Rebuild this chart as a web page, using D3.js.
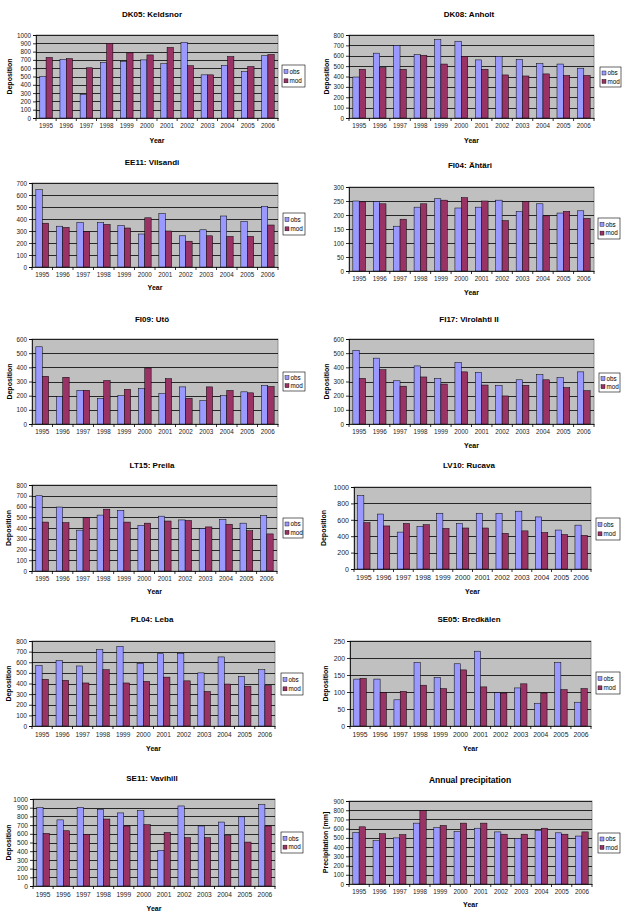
<!DOCTYPE html>
<html>
<head>
<meta charset="utf-8">
<script src="https://cdn.jsdelivr.net/npm/d3@7"></script>
<style>
  body { margin: 0; background: #fff; }
  svg { display: block; font-family: "Liberation Sans", Arial, sans-serif; }
</style>
</head>
<body>
<svg id="chart" width="627" height="923"></svg>
<script>
// data
const years = ["1995","1996","1997","1998","1999","2000","2001","2002","2003","2004","2005","2006"];
const seriesNames = ["obs", "mod"];

const dk05Obs = [500, 705, 285, 670, 680, 700, 655, 910, 520, 635, 560, 750];
const dk05Mod = [730, 715, 605, 900, 785, 760, 850, 630, 520, 740, 620, 765];
const dk08Obs = [395, 625, 700, 610, 755, 740, 560, 595, 565, 525, 520, 480];
const dk08Mod = [470, 485, 470, 605, 520, 595, 470, 415, 405, 425, 410, 410];
const ee11Obs = [645, 340, 370, 370, 345, 275, 445, 260, 310, 425, 380, 505];
const ee11Mod = [365, 330, 295, 355, 325, 410, 300, 215, 260, 255, 255, 350];
const fi04Obs = [250, 248, 160, 228, 258, 225, 228, 253, 213, 240, 207, 215];
const fi04Mod = [247, 240, 185, 240, 253, 262, 250, 180, 248, 197, 213, 188];
const fi09Obs = [545, 195, 238, 180, 200, 250, 215, 262, 165, 200, 227, 272];
const fi09Mod = [337, 330, 238, 307, 245, 395, 320, 182, 262, 237, 220, 265];
const fi17Obs = [520, 465, 305, 410, 322, 435, 365, 272, 312, 348, 328, 368];
const fi17Mod = [322, 383, 267, 332, 282, 368, 275, 198, 273, 312, 257, 235];
const lt15Obs = [700, 595, 380, 520, 565, 425, 510, 475, 395, 480, 445, 515];
const lt15Mod = [455, 450, 495, 575, 455, 445, 465, 470, 410, 435, 375, 345];
const lv10Obs = [895, 670, 450, 520, 680, 555, 680, 675, 705, 635, 475, 535];
const lv10Mod = [565, 525, 555, 540, 495, 500, 500, 435, 465, 445, 420, 410];
const pl04Obs = [570, 615, 565, 720, 750, 590, 680, 685, 500, 650, 465, 530];
const pl04Mod = [440, 430, 405, 530, 405, 420, 460, 425, 325, 395, 375, 380];
const se05Obs = [138, 138, 77, 187, 143, 183, 220, 98, 112, 67, 187, 70];
const se05Mod = [140, 98, 102, 120, 110, 165, 115, 97, 124, 97, 107, 110];
const se11Obs = [900, 760, 905, 880, 840, 865, 410, 920, 690, 735, 795, 935];
const se11Mod = [605, 635, 595, 770, 690, 705, 615, 555, 555, 580, 505, 690];
const precObs = [560, 470, 500, 660, 610, 570, 605, 565, 495, 580, 555, 520];
const precMod = [620, 545, 535, 795, 635, 660, 660, 540, 540, 605, 540, 565];

const titles = ["DK05: Keldsnor", "DK08: Anholt", "EE11: Vilsandi", "FI04: \u00c4ht\u00e4ri",
  "FI09: Ut\u00f6", "FI17: Virolahti II", "LT15: Preila", "LV10: Rucava",
  "PL04: Leba", "SE05: Bredk\u00e4len", "SE11: Vavihill", "Annual precipitation"];
const yMax = [1000, 800, 700, 300, 600, 600, 800, 1000, 800, 250, 1000, 900];
const yStep = [100, 100, 100, 50, 100, 100, 100, 200, 100, 50, 100, 100];
const yTitles = ["Deposition", "Deposition", "", "", "Deposition", "Deposition", "Deposition",
  "Deposition", "Deposition", "Deposition", "Deposition", "Precipitation [mm]"];
const xTitles = ["Year", "Year", "Year", "Year", "", "Year", "Year", "Year", "Year", "Year", "Year", "Year"];
const obsSets = [dk05Obs, dk08Obs, ee11Obs, fi04Obs, fi09Obs, fi17Obs, lt15Obs, lv10Obs, pl04Obs, se05Obs, se11Obs, precObs];
const modSets = [dk05Mod, dk08Mod, ee11Mod, fi04Mod, fi09Mod, fi17Mod, lt15Mod, lv10Mod, pl04Mod, se05Mod, se11Mod, precMod];

// layout of each panel on the page: plot box, legend box, title and axis title spots
const layout = [
  {l: 36, t: 35, r: 278, b: 118, lx: 282, ly: 65, lw: 23, lh: 22, tx: 152, ty: 14, yx: 9, xy: 140, fs: 6.3},
  {l: 349, t: 35, r: 594, b: 118, lx: 600, ly: 67, lw: 21, lh: 20, tx: 469, ty: 14, yx: 326, xy: 140, fs: 6.3},
  {l: 32, t: 183, r: 278, b: 267, lx: 283, ly: 213, lw: 22, lh: 22, tx: 152, ty: 162, yx: 9, xy: 287, fs: 6.3},
  {l: 349, t: 187, r: 594, b: 271, lx: 598, ly: 218, lw: 22, lh: 21, tx: 470, ty: 165, yx: 326, xy: 292, fs: 6.3},
  {l: 32, t: 339, r: 278, b: 424, lx: 283, ly: 372, lw: 22, lh: 19, tx: 152, ty: 319, yx: 9, xy: 445, fs: 6.3},
  {l: 349, t: 339, r: 594, b: 424, lx: 599, ly: 373, lw: 21, lh: 19, tx: 469, ty: 319, yx: 326, xy: 445, fs: 6.3},
  {l: 32, t: 485, r: 277, b: 571, lx: 283, ly: 518, lw: 20, lh: 20, tx: 152, ty: 465, yx: 8, xy: 591, fs: 6.3},
  {l: 354, t: 487, r: 591, b: 569, lx: 596, ly: 518, lw: 24, lh: 22, tx: 469, ty: 465, yx: 323, xy: 591, fs: 7},
  {l: 32, t: 641, r: 275, b: 726, lx: 281, ly: 673, lw: 22, lh: 22, tx: 152, ty: 619, yx: 8, xy: 748, fs: 6.5},
  {l: 350, t: 641, r: 591, b: 726, lx: 596, ly: 672, lw: 24, lh: 22, tx: 469, ty: 619, yx: 325, xy: 748, fs: 6.8},
  {l: 33, t: 799, r: 275, b: 886, lx: 281, ly: 832, lw: 22, lh: 21, tx: 152, ty: 778, yx: 8, xy: 908, fs: 6.6},
  {l: 349, t: 801, r: 592, b: 884, lx: 598, ly: 833, lw: 22, lh: 20, tx: 470, ty: 780, yx: 325, xy: 904, fs: 6.3}
];

const colors = {obs: "#9999ff", mod: "#993366"};
const fontFamily = "'Liberation Sans', Arial, sans-serif";
const svg = d3.select("#chart");

titles.forEach((title, i) => {
  const p = layout[i];
  const g = svg.append("g");
  const rows = years.map((y, j) => ({year: y, obs: obsSets[i][j], mod: modSets[i][j]}));

  const x = d3.scaleBand().domain(years).range([p.l, p.r]);
  const x1 = d3.scaleBand().domain(seriesNames).range([0, x.bandwidth()]).paddingOuter(0.6).paddingInner(0);
  const y = d3.scaleLinear().domain([0, yMax[i]]).range([p.b, p.t]);
  const ticks = d3.range(0, yMax[i] + 1, yStep[i]);

  // plot background
  g.append("rect")
    .attr("x", p.l).attr("y", p.t)
    .attr("width", p.r - p.l).attr("height", p.b - p.t)
    .attr("fill", "#c0c0c0").attr("stroke", "#808080").attr("stroke-width", 0.8);

  // gridlines
  g.append("g").selectAll("line")
    .data(ticks.filter(d => d > 0))
    .join("line")
    .attr("x1", p.l).attr("x2", p.r)
    .attr("y1", d => Math.round(y(d)) + 0.5).attr("y2", d => Math.round(y(d)) + 0.5)
    .attr("stroke", "#000").attr("stroke-width", 0.8);

  // bars
  g.append("g").selectAll("g")
    .data(rows)
    .join("g")
    .attr("transform", d => `translate(${x(d.year)},0)`)
    .selectAll("rect")
    .data(d => seriesNames.map(k => ({key: k, value: d[k]})))
    .join("rect")
    .attr("x", d => x1(d.key))
    .attr("width", x1.bandwidth())
    .attr("y", d => y(d.value))
    .attr("height", d => p.b - y(d.value))
    .attr("fill", d => colors[d.key])
    .attr("stroke", "#000").attr("stroke-width", 0.5);

  // y axis
  const yAxis = g.append("g")
    .attr("transform", `translate(${p.l},0)`)
    .call(d3.axisLeft(y).tickValues(ticks).tickSize(3).tickPadding(2).tickFormat(d3.format("d")))
    .attr("font-family", fontFamily);
  yAxis.selectAll("text").attr("font-size", p.fs).attr("fill", "#222");
  yAxis.selectAll("line, path").attr("stroke", "#000").attr("stroke-width", 0.8);

  // x axis, ticks between categories like the spreadsheet charts
  const xAxis = g.append("g")
    .attr("transform", `translate(0,${p.b})`)
    .call(d3.axisBottom(x).tickSize(0).tickPadding(6))
    .attr("font-family", fontFamily);
  xAxis.selectAll("text").attr("font-size", p.fs).attr("fill", "#222");
  xAxis.select("path").attr("stroke", "#000").attr("stroke-width", 0.8);
  xAxis.selectAll("line.sep")
    .data(years.concat(["end"]))
    .join("line")
    .attr("class", "sep")
    .attr("x1", (d, j) => p.l + j * x.step()).attr("x2", (d, j) => p.l + j * x.step())
    .attr("y1", 0).attr("y2", 3)
    .attr("stroke", "#000").attr("stroke-width", 0.8);

  // title
  g.append("text")
    .attr("x", p.tx).attr("y", p.ty + 3)
    .attr("text-anchor", "middle")
    .attr("font-size", i === 11 ? 8.5 : 8).attr("font-weight", "bold")
    .text(title);

  if (xTitles[i]) {
    g.append("text")
      .attr("x", (p.l + p.r) / 2).attr("y", p.xy + 2.5)
      .attr("text-anchor", "middle")
      .attr("font-size", 7).attr("font-weight", "bold")
      .text(xTitles[i]);
  }
  if (yTitles[i]) {
    g.append("text")
      .attr("transform", `translate(${p.yx + 2.5},${(p.t + p.b) / 2}) rotate(-90)`)
      .attr("text-anchor", "middle")
      .attr("font-size", 7).attr("font-weight", "bold")
      .text(yTitles[i]);
  }

  // legend
  const lg = g.append("g").attr("transform", `translate(${p.lx},${p.ly})`);
  lg.append("rect")
    .attr("width", p.lw).attr("height", p.lh)
    .attr("fill", "#fff").attr("stroke", "#000").attr("stroke-width", 0.6);
  seriesNames.forEach((k, j) => {
    const cy = p.lh * (j === 0 ? 0.3 : 0.72);
    lg.append("rect")
      .attr("x", 2).attr("y", cy - 2)
      .attr("width", 4).attr("height", 4)
      .attr("fill", colors[k]).attr("stroke", "#000").attr("stroke-width", 0.4);
    lg.append("text")
      .attr("x", 7.5).attr("y", cy + 2.3)
      .attr("font-size", 6.3)
      .text(k);
  });
});
</script>
</body>
</html>
